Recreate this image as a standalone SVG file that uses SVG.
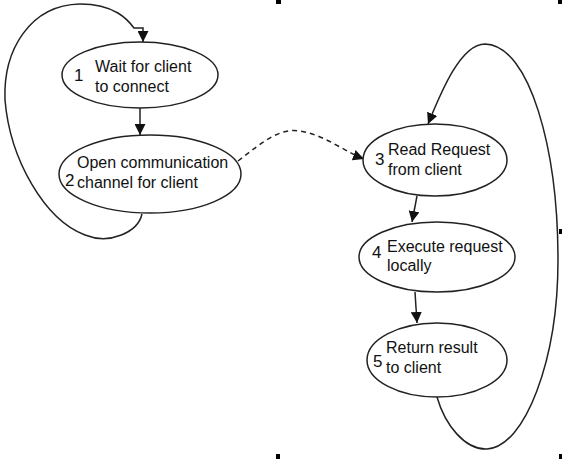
<svg xmlns="http://www.w3.org/2000/svg" width="562" height="459" viewBox="0 0 562 459">
<style>
.n ellipse{fill:#fff;stroke:#222;stroke-width:1.5}
text{font-family:"Liberation Sans",Arial,sans-serif;font-size:16px;fill:#111}
.num{font-size:17px}
.c path{fill:none;stroke:#222;stroke-width:1.5}
.c .d{stroke-dasharray:5 4}
.h{fill:#000}
</style>
<defs>
<marker id="ah" viewBox="0 0 10 10" refX="10" refY="5" markerUnits="userSpaceOnUse" markerWidth="11" markerHeight="11" orient="auto">
<path d="M0,0 L10,5 L0,10 Z" fill="#111"/>
</marker>
</defs>
<g class="c" id="connectors">
<path d="M140,108 L140,135" marker-end="url(#ah)"/>
<path d="M142,214 C138,232 110,245 85,235 C45,220 10,160 5,100 C3,50 30,5 80,4 C115,4 128,20 134,28 L143,28 L143,42" marker-end="url(#ah)"/>
<path class="d" d="M238,161 C265,140 280,128 300,131 C325,135 345,152 364,159" marker-end="url(#ah)"/>
<path d="M417,196 L412,222" marker-end="url(#ah)"/>
<path d="M415,292 L417,323" marker-end="url(#ah)"/>
<path d="M437,397 C445,425 465,450 487,449 C525,447 558,360 558,260 C558,150 530,45 485,44 C460,44 440,95 428,124" marker-end="url(#ah)"/>
</g>
<g class="n" id="node1">
<ellipse cx="140" cy="75" rx="78" ry="33"/>
<text class="num" x="74" y="81">1</text>
<text x="95" y="72">Wait for client</text>
<text x="95" y="92">to connect</text>
</g>
<g class="n" id="node2">
<ellipse cx="150" cy="174" rx="91" ry="39"/>
<text class="num" x="65" y="186">2</text>
<text x="77" y="168">Open communication</text>
<text x="77" y="188">channel for client</text>
</g>
<g class="n" id="node3">
<ellipse cx="435" cy="160" rx="72" ry="36"/>
<text class="num" x="375" y="165">3</text>
<text x="388" y="155">Read Request</text>
<text x="388" y="175">from client</text>
</g>
<g class="n" id="node4">
<ellipse cx="437" cy="257" rx="78" ry="35"/>
<text class="num" x="372" y="258">4</text>
<text x="387" y="252">Execute request</text>
<text x="387" y="271">locally</text>
</g>
<g class="n" id="node5">
<ellipse cx="437" cy="360" rx="70" ry="37"/>
<text class="num" x="373" y="367">5</text>
<text x="386" y="353">Return result</text>
<text x="386" y="373">to client</text>
</g>
<g id="handles">
<rect class="h" x="276" y="0" width="5" height="4"/>
<rect class="h" x="558" y="0" width="4" height="4"/>
<rect class="h" x="559" y="229" width="3" height="5"/>
<rect class="h" x="276" y="454" width="4" height="5"/>
<rect class="h" x="559" y="454" width="3" height="5"/>
</g>
</svg>
